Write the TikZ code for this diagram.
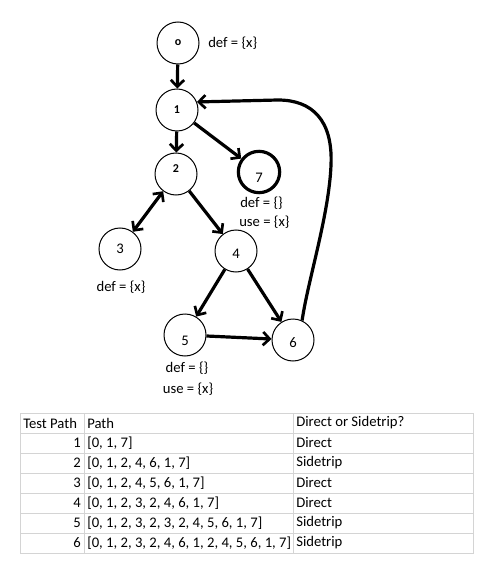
\documentclass[tikz,border=0pt]{standalone}
\usepackage{fontspec}
\setmainfont{Carlito}
\usetikzlibrary{arrows.meta}
\definecolor{gridgray}{HTML}{D4D4D4}
\newcommand\shiftlab[2]{\raisebox{#1}[0pt][0pt]{#2}}
\begin{document}
\begin{tikzpicture}[x=0.75pt,y=-0.75pt,
  vert/.style={circle,draw,line width=0.75pt,minimum size=31.5pt,inner sep=0pt,font=\fontsize{11}{13}\selectfont},
  smallvert/.style={vert,font=\fontsize{9}{10}\selectfont\bfseries},
  thickvert/.style={vert,line width=2.4pt,minimum size=31pt},
  edge/.style={line width=2.4pt,-{Straight Barb[length=5pt,width=10pt,line width=2pt]}},
  biedge/.style={line width=2.4pt,{Straight Barb[length=5pt,width=10pt,line width=2pt]}-{Straight Barb[length=5pt,width=10pt,line width=2pt]}},
  lbl/.style={font=\fontsize{11}{13}\selectfont,inner sep=0pt},
  cell/.style={font=\fontsize{11}{13}\selectfont,inner sep=0pt}]
\useasboundingbox (0,0) rectangle (498,577);
% vertices
\node[smallvert] (n0) at (178,43) {o};
\node[smallvert] (n1) at (177,110) {1};
\node[smallvert] (n2) at (176,174) {\shiftlab{0.9pt}{2}};
\node[thickvert] (n7) at (259,172) {\shiftlab{-8pt}{7}};
\node[vert] (n3) at (120,249) {3};
\node[vert] (n4) at (236,251) {\shiftlab{-5.75pt}{4}};
\node[vert] (n5) at (185,335) {\shiftlab{-8pt}{5}};
\node[vert] (n6) at (293,340) {\shiftlab{-5.75pt}{6}};
% labels
\node[lbl,anchor=west] (l0) at (208,43) {def = \{x\}};
\node[lbl] (l3) at (121,287) {def = \{x\}};
\node[lbl,anchor=west] (l7a) at (240,203) {def = \{\}};
\node[lbl,anchor=west] (l7b) at (239,222) {use = \{x\}};
\node[lbl] (l5a) at (187,368) {def = \{\}};
\node[lbl] (l5b) at (188,389) {use = \{x\}};
% edges
\draw[edge] (n0) -- (n1);
\draw[edge] (n1) -- (n2);
\draw[edge] (n1) -- (n7);
\draw[biedge] (n2) -- (n3);
\draw[edge] (n2) -- (n4);
\draw[edge] (n4) -- (n5);
\draw[edge] (n4) -- (n6);
\draw[edge] (n5) -- (n6);
\coordinate (cA) at (331,165);
\coordinate (cB) at (278,100);
\draw[edge] (n6.65) .. controls (308,280) and (329,215) .. (cA)
  .. controls (333,120) and (312,100) .. (cB) -- (n1.22);
% table
\draw[gridgray,line width=0.75pt] (20,413) rectangle (473,553);
\foreach \y in {433,453,473,493,513,533} \draw[gridgray,line width=0.75pt] (20,\y) -- (473,\y);
\draw[gridgray,line width=0.75pt] (84,413) -- (84,553);
\draw[gridgray,line width=0.75pt] (293,413) -- (293,553);
\node[cell,anchor=west] (h1) at (23,423) {Test Path};
\node[cell,anchor=west] (h2) at (87,423) {Path};
\node[cell,anchor=west] (h3) at (296,423) {Direct or Sidetrip?};
\foreach \i/\p/\d [count=\k] in {
  1/{[0, 1, 7]}/Direct,
  2/{[0, 1, 2, 4, 6, 1, 7]}/Sidetrip,
  3/{[0, 1, 2, 4, 5, 6, 1, 7]}/Direct,
  4/{[0, 1, 2, 3, 2, 4, 6, 1, 7]}/Direct,
  5/{[0, 1, 2, 3, 2, 3, 2, 4, 5, 6, 1, 7]}/Sidetrip,
  6/{[0, 1, 2, 3, 2, 4, 6, 1, 2, 4, 5, 6, 1, 7]}/Sidetrip} {
  \node[cell,anchor=east] (a\k) at (81,423+20*\k) {\i};
  \node[cell,anchor=west] (b\k) at (87,423+20*\k) {\p};
  \node[cell,anchor=west] (c\k) at (296,423+20*\k) {\d};
}
\end{tikzpicture}
\end{document}
